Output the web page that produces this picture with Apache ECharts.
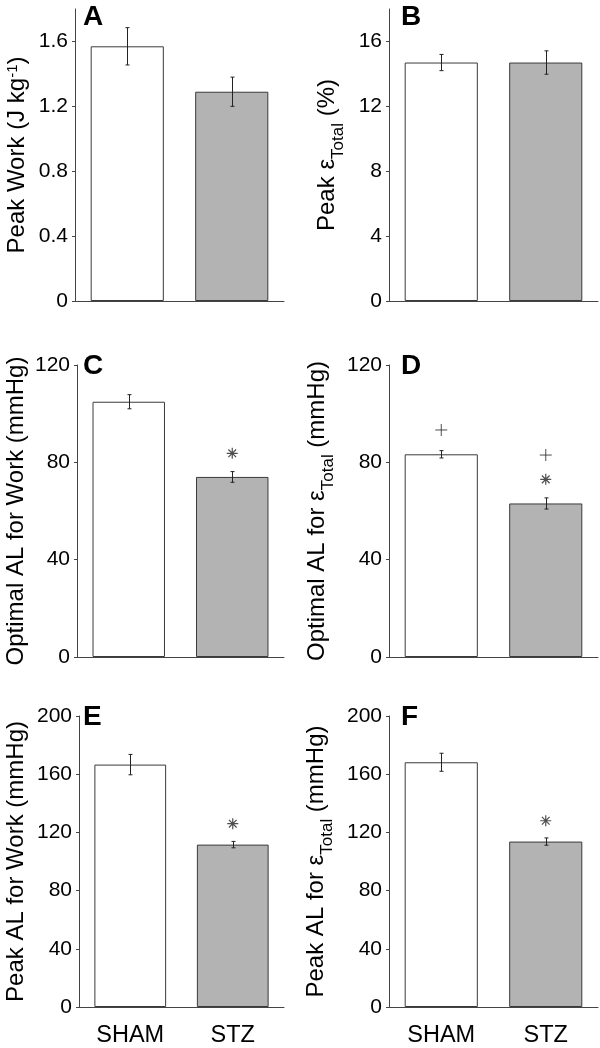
<!DOCTYPE html>
<html><head><meta charset="utf-8">
<script src="https://cdn.jsdelivr.net/npm/echarts@6/dist/echarts.min.js"></script>
<style>html,body{margin:0;padding:0;background:#fff}#c{width:600px;height:1048px}</style>
</head><body><div id="c"></div>
<script>
// ---- data ----
const categories = ['SHAM', 'STZ'];
const panelLetters = ['A', 'B', 'C', 'D', 'E', 'F'];
const yNames = [
  'Peak Work (J kg{sup|-1})',
  'Peak ε{sub|Total} (%)',
  'Optimal AL for Work (mmHg)',
  'Optimal AL for ε{sub|Total} (mmHg)',
  'Peak AL for Work (mmHg)',
  'Peak AL for ε{sub|Total} (mmHg)'
];
const meanA = [1.57, 1.29];   const semA = [0.115, 0.09];
const meanB = [14.7, 14.7];   const semB = [0.5, 0.72];
const meanC = [104.9, 74.0];  const semC = [2.9, 2.2];
const meanD = [83.3, 63.1];   const semD = [1.5, 2.3];
const meanE = [166.6, 111.6]; const semE = [7.0, 2.2];
const meanF = [168.2, 113.7]; const semF = [6.2, 2.5];
const yMaxes = [1.8, 18, 120, 120, 200, 200];
const yTicksA = [0, 0.4, 0.8, 1.2, 1.6];
const yTicksB = [0, 4, 8, 12, 16];
const yTicksCD = [0, 40, 80, 120];
const yTicksEF = [0, 40, 80, 120, 160, 200];
// significance markers: [category, value]
const asteriskC = [['STZ', 83.7]];
const plusD = [['SHAM', 93.3], ['STZ', 83.0]];
const asteriskD = [['STZ', 73.0]];
const asteriskE = [['STZ', 126.0]];
const asteriskF = [['STZ', 128.0]];

// ---- build ----
const means = [meanA, meanB, meanC, meanD, meanE, meanF];
const sems = [semA, semB, semC, semD, semE, semF];
const yTicks = [yTicksA, yTicksB, yTicksCD, yTicksCD, yTicksEF, yTicksEF];
const asterisks = [[], [], asteriskC, asteriskD, asteriskE, asteriskF];
const pluses = [[], [], [], plusD, [], []];

const FONT = "'Liberation Sans', Arial, sans-serif";
const AXIS_COLOR = '#444';
const lefts = [75, 389];
const tops = [9, 365, 716];
const heights = [292, 292, 293];
const W = 209;
const nameGaps = [43, 47, 46, 57, 48, 58];

const grids = [], xAxes = [], yAxes = [], series = [], graphics = [];
const ASTER = 'path://M0,-1L0,1M-1,0L1,0M-0.7,-0.7L0.7,0.7M-0.7,0.7L0.7,-0.7';
const PLUS = 'path://M0,-1L0,1M-1,0L1,0';

for (let i = 0; i < 6; i++) {
  const col = i % 2, row = Math.floor(i / 2);
  grids.push({ left: lefts[col], top: tops[row], width: W, height: heights[row] });
  xAxes.push({
    type: 'category', gridIndex: i, data: categories,
    axisLine: { show: true, lineStyle: { color: AXIS_COLOR, width: 1 } },
    axisTick: { show: false },
    axisLabel: { show: row === 2, fontSize: 23.5, color: '#000', fontFamily: FONT, margin: 17 }
  });
  yAxes.push({
    type: 'value', gridIndex: i, min: 0, max: yMaxes[i],
    splitLine: { show: false },
    axisLine: { show: true, lineStyle: { color: AXIS_COLOR, width: 1 } },
    axisTick: { show: true, inside: false, length: 3, lineStyle: { color: AXIS_COLOR }, customValues: yTicks[i] },
    axisLabel: { fontSize: 21, color: '#000', fontFamily: FONT, margin: 7, customValues: yTicks[i] },
    name: yNames[i], nameLocation: 'middle', nameGap: nameGaps[i],
    nameTextStyle: {
      fontSize: 24, color: '#000', fontFamily: FONT, lineHeight: 30,
      rich: {
        sub: { fontSize: 17, lineHeight: 17, verticalAlign: 'top', padding: [18, 0, 0, 0], fontFamily: FONT, color: '#000' },
        sup: { fontSize: 15, lineHeight: 15, verticalAlign: 'top', padding: [3, 0, 0, 0], fontFamily: FONT, color: '#000' }
      }
    }
  });
  series.push({
    type: 'bar', xAxisIndex: i, yAxisIndex: i, barWidth: '70%',
    data: means[i].map((v, k) => ({ value: v, itemStyle: { color: k === 0 ? '#ffffff' : '#b3b3b3' } })),
    itemStyle: { borderColor: '#3a3a3a', borderWidth: 1 },
    silent: true, animation: false
  });
  series.push({
    type: 'custom', xAxisIndex: i, yAxisIndex: i, z: 5,
    encode: { x: 0, y: 1 },
    data: means[i].map((v, k) => [k, v, sems[i][k]]),
    renderItem: function (params, api) {
      const x = api.value(0), m = api.value(1), e = api.value(2);
      const t = api.coord([x, m + e]);
      const b = api.coord([x, m - e]);
      const st = { stroke: '#222', lineWidth: 1 };
      const cx = Math.round(t[0]) + 0.5;
      return {
        type: 'group', children: [
          { type: 'line', shape: { x1: cx, y1: t[1], x2: cx, y2: b[1] }, style: st },
          { type: 'line', shape: { x1: cx - 2, y1: t[1], x2: cx + 2, y2: t[1] }, style: st },
          { type: 'line', shape: { x1: cx - 2, y1: b[1], x2: cx + 2, y2: b[1] }, style: st }
        ]
      };
    },
    silent: true, animation: false
  });
  if (asterisks[i].length) series.push({
    type: 'scatter', xAxisIndex: i, yAxisIndex: i, data: asterisks[i],
    symbol: ASTER, symbolSize: 11,
    itemStyle: { color: 'none', borderColor: '#222', borderWidth: 1.2 }, z: 6,
    silent: true, animation: false
  });
  if (pluses[i].length) series.push({
    type: 'scatter', xAxisIndex: i, yAxisIndex: i, data: pluses[i],
    symbol: PLUS, symbolSize: 12,
    itemStyle: { color: 'none', borderColor: '#222', borderWidth: 1 }, z: 6,
    silent: true, animation: false
  });
  graphics.push({
    type: 'text', left: lefts[col] + (col === 0 ? 8 : 12), top: tops[row] - (row === 0 ? 6 : 13),
    style: { text: panelLetters[i], font: "bold 28px 'Liberation Sans', Arial, sans-serif", fill: '#000' }
  });
}

const chart = echarts.init(document.getElementById('c'), null, { renderer: 'canvas' });
chart.setOption({
  backgroundColor: '#fff', animation: false,
  grid: grids, xAxis: xAxes, yAxis: yAxes, series: series, graphic: graphics
});
</script>
</body></html>
